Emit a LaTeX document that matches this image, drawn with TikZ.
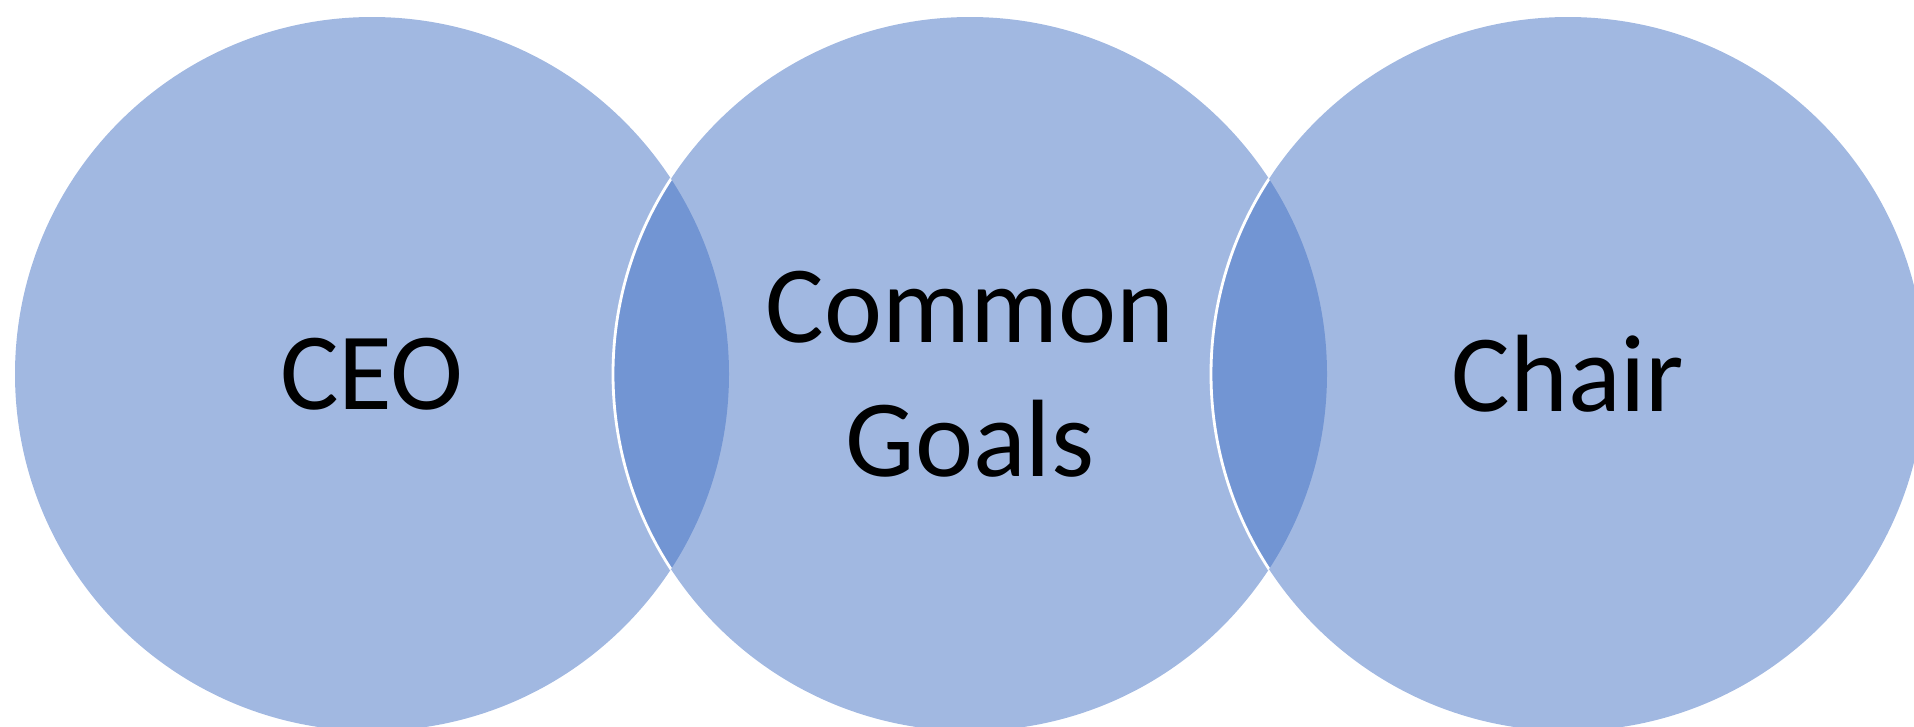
\documentclass[tikz,border=0pt]{standalone}
\usepackage{fontspec}
\setmainfont{Carlito}
\definecolor{accent}{HTML}{4472C4}
\tikzset{
  venn/.style={circle, minimum size=7.14cm, inner sep=0pt, fill=accent, fill opacity=0.5, text opacity=1, text=black, align=center, font=\fontsize{31.3}{38.1}\selectfont},
  rim/.style={draw=white, line width=0.8pt}
}
\begin{document}
\begin{tikzpicture}
\useasboundingbox (0,0) rectangle (19.14,7.26);
\clip (0,0) rectangle (19.14,7.26);
\coordinate (c1) at (3.72,3.52);
\coordinate (c2) at (9.70,3.52);
\coordinate (c3) at (15.68,3.52);
\node[venn] (ceo) at (c1) {CEO};
\node[venn] (goals) at (c2) {Common\\Goals};
\node[venn] (chair) at (c3) {Chair};
\begin{scope}
  \clip (c1) circle (3.57);
  \draw[rim] (c2) circle (3.57);
\end{scope}
\begin{scope}
  \clip (c2) circle (3.57);
  \draw[rim] (c3) circle (3.57);
\end{scope}
\end{tikzpicture}
\end{document}
